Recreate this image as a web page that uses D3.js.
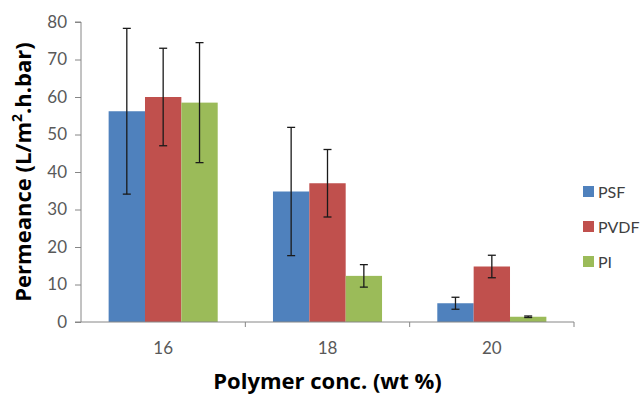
<!DOCTYPE html>
<html>
<head>
<meta charset="utf-8">
<script src="https://cdn.jsdelivr.net/npm/d3@7"></script>
<style>
  body { margin: 0; background: #fff; }
  text { font-family: Lato, "Open Sans", sans-serif; }
  .title { font-family: "Open Sans", sans-serif; }
</style>
</head>
<body>
<div class="chart"></div>
<script>
// Data
const categories = ["16", "18", "20"];
const seriesNames = ["PSF", "PVDF", "PI"];
const psfValues = [56.2, 34.8, 5.0];
const pvdfValues = [60.0, 37.0, 14.8];
const piValues = [58.5, 12.3, 1.4];
const psfErrors = [22.1, 17.1, 1.6];
const pvdfErrors = [13.0, 9.0, 3.0];
const piErrors = [16.0, 3.0, 0.2];
const yTicks = [0, 10, 20, 30, 40, 50, 60, 70, 80];

const colors = ["#4F81BD", "#C0504D", "#9BBB59"];

let width = 641;
let height = 395;

let margin = {
    top: 22,
    right: 67,
    left: 81,
    bottom: 73
};

let svg = d3.select(".chart").append("svg")
    .attr("width", width)
    .attr("height", height);

// Build rows for the bars
let rows = [];
categories.forEach(function (c, i) {
    rows.push({ cat: c, series: "PSF", value: psfValues[i], err: psfErrors[i] });
    rows.push({ cat: c, series: "PVDF", value: pvdfValues[i], err: pvdfErrors[i] });
    rows.push({ cat: c, series: "PI", value: piValues[i], err: piErrors[i] });
});

const xScale = d3.scaleBand()
    .domain(categories)
    .range([margin.left, width - margin.right]);

const xInner = d3.scaleBand()
    .domain(seriesNames)
    .range([0, xScale.bandwidth()])
    .paddingOuter(0.76)
    .paddingInner(0);

const yScale = d3.scaleLinear()
    .domain([0, 80])
    .range([height - margin.bottom, margin.top]);

const colorScale = d3.scaleOrdinal()
    .domain(seriesNames)
    .range(colors);

// Bars
svg.append("g").selectAll("rect")
    .data(rows)
    .enter()
    .append("rect")
    .attr("x", d => xScale(d.cat) + xInner(d.series))
    .attr("y", d => yScale(d.value))
    .attr("width", xInner.bandwidth())
    .attr("height", d => yScale(0) - yScale(d.value))
    .attr("fill", d => colorScale(d.series));

// Error bars
let errG = svg.append("g").selectAll("g")
    .data(rows)
    .enter()
    .append("g")
    .attr("stroke", "#1a1a1a")
    .attr("stroke-width", 1.3);

let cx = d => xScale(d.cat) + xInner(d.series) + xInner.bandwidth() / 2;

errG.append("line")
    .attr("x1", cx)
    .attr("x2", cx)
    .attr("y1", d => yScale(d.value + d.err))
    .attr("y2", d => yScale(d.value - d.err));
errG.append("line")
    .attr("x1", d => cx(d) - 4)
    .attr("x2", d => cx(d) + 4)
    .attr("y1", d => yScale(d.value + d.err))
    .attr("y2", d => yScale(d.value + d.err));
errG.append("line")
    .attr("x1", d => cx(d) - 4)
    .attr("x2", d => cx(d) + 4)
    .attr("y1", d => yScale(d.value - d.err))
    .attr("y2", d => yScale(d.value - d.err));

// Y axis
let yAxis = svg.append("g")
    .attr("transform", `translate(${margin.left},0)`)
    .call(d3.axisLeft(yScale).tickValues(yTicks).tickSize(6).tickPadding(8));
yAxis.selectAll("path, line").attr("stroke", "#868686");
yAxis.selectAll("text")
    .style("font-size", "17px")
    .attr("fill", "#595959");
yAxis.select(".domain").attr("d", `M-6,${yScale(80)}H0V${yScale(0)}H-6`);

// X axis
let xAxis = svg.append("g")
    .attr("transform", `translate(0,${yScale(0)})`)
    .call(d3.axisBottom(xScale).tickSize(0).tickPadding(20));
xAxis.select(".domain").attr("stroke", "#868686")
    .attr("d", `M${margin.left},0H${width - margin.right}V5`);
xAxis.selectAll("text")
    .style("font-size", "17px")
    .attr("fill", "#595959");

// Boundary ticks between categories
svg.append("g").selectAll("line")
    .data(categories.slice(1))
    .enter()
    .append("line")
    .attr("x1", d => xScale(d))
    .attr("x2", d => xScale(d))
    .attr("y1", yScale(0))
    .attr("y2", yScale(0) + 5)
    .attr("stroke", "#868686");

// Axis titles
svg.append("text")
    .attr("class", "title")
    .attr("x", (margin.left + width - margin.right) / 2)
    .attr("y", 389)
    .attr("text-anchor", "middle")
    .style("font-size", "22px")
    .style("font-weight", "bold")
    .attr("fill", "#000")
    .text("Polymer conc. (wt %)");

let yTitle = svg.append("text")
    .attr("class", "title")
    .attr("transform", `translate(31,${(margin.top + yScale(0)) / 2}) rotate(-90)`)
    .attr("text-anchor", "middle")
    .style("font-size", "22px")
    .style("font-weight", "bold")
    .attr("fill", "#000");
yTitle.append("tspan").text("Permeance (L/m");
yTitle.append("tspan").attr("baseline-shift", "super").style("font-size", "14px").text("2");
yTitle.append("tspan").text(".h.bar)");

// Legend
let legend = svg.append("g").selectAll("g")
    .data(seriesNames)
    .enter()
    .append("g")
    .attr("transform", (d, i) => `translate(583,${192 + i * 35})`);
legend.append("rect")
    .attr("x", 0)
    .attr("y", -6)
    .attr("width", 11)
    .attr("height", 11)
    .attr("fill", d => colorScale(d));
legend.append("text")
    .attr("x", 15)
    .attr("y", 6)
    .style("font-size", "16px")
    .attr("fill", "#404040")
    .text(d => d);
</script>
</body>
</html>
